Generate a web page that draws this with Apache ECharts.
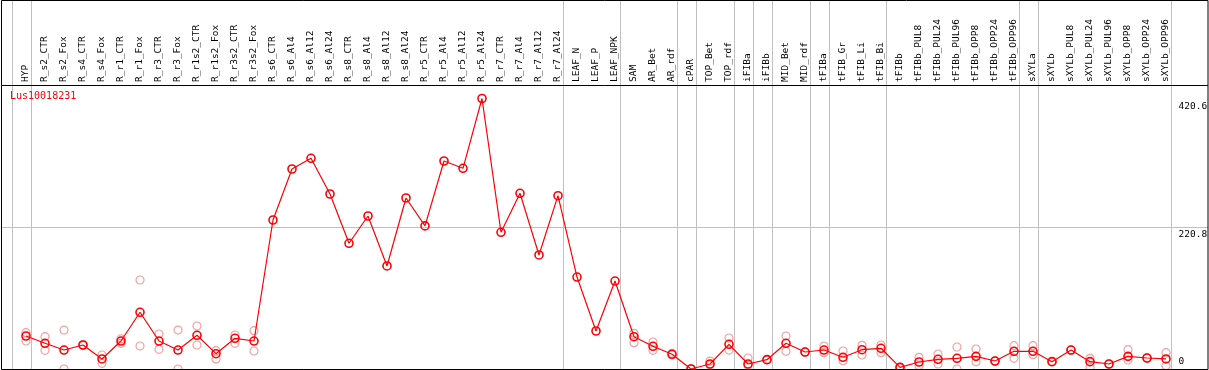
<!DOCTYPE html>
<html>
<head>
<meta charset="utf-8">
<script src="https://cdn.jsdelivr.net/npm/echarts@6/dist/echarts.min.js"></script>
<style>
html,body{margin:0;padding:0;background:#ffffff;}
#chart{width:1209px;height:370px;}
</style>
</head>
<body>
<div id="chart"></div>
<script>
const geneTitle = 'Lus10018231';

const categories = [
  'HYP','R_s2_CTR','R_s2_Fox','R_s4_CTR','R_s4_Fox','R_r1_CTR','R_r1_Fox','R_r3_CTR','R_r3_Fox',
  'R_r1s2_CTR','R_r1s2_Fox','R_r3s2_CTR','R_r3s2_Fox','R_s6_CTR','R_s6_Al4','R_s6_Al12','R_s6_Al24',
  'R_s8_CTR','R_s8_Al4','R_s8_Al12','R_s8_Al24','R_r5_CTR','R_r5_Al4','R_r5_Al12','R_r5_Al24',
  'R_r7_CTR','R_r7_Al4','R_r7_Al12','R_r7_Al24','LEAF_N','LEAF_P','LEAF_NPK','SAM','AR_Bet','AR_rdf',
  'cPAR','TOP_Bet','TOP_rdf','iFIBa','iFIBb','MID_Bet','MID_rdf','tFIBa','tFIB_Gr','tFIB_Li','tFIB_Bi',
  'tFIBb','tFIBb_PUL8','tFIBb_PUL24','tFIBb_PUL96','tFIBb_OPP8','tFIBb_OPP24','tFIBb_OPP96',
  'sXYLa','sXYLb','sXYLb_PUL8','sXYLb_PUL24','sXYLb_PUL96','sXYLb_OPP8','sXYLb_OPP24','sXYLb_OPP96'
];

// mean expression per sample (red line)
const meanValues = [
  51.3, 40.0, 29.5, 37.3, 15.6, 43.5, 88.2, 43.5, 29.5,
  52.4, 23.8, 47.7, 43.5, 231.7, 311.0, 327.6, 272.1,
  195.5, 237.9, 160.2, 265.9, 222.5, 323.4, 312.1, 420.6,
  212.6, 273.2, 177.3, 269.5, 143.0, 59.1, 136.8, 50.2, 35.3, 22.9,
  0.0, 7.8, 38.4, 7.8, 14.5, 40.0, 26.4, 29.5, 18.2, 30.0, 32.2,
  2.6, 10.9, 15.1, 16.6, 19.7, 12.4, 27.5,
  27.5, 11.4, 29.5, 11.4, 7.8, 19.7, 17.1, 15.6
];

// individual replicates (pink circles)
const rep1 = [
  56.5, 50.2, 60.6, 38.0, 21.8, 47.0, 138.4, 54.4, 60.6,
  66.9, 28.5, 52.9, 59.6, null, null, null, null,
  null, null, null, null, null, null, null, null,
  null, null, null, null, null, null, null, 55.5, 42.0, 24.4,
  0.5, 12.4, 48.2, 17.1, 14.5, 51.3, 26.4, 35.8, 28.0, 36.8, 37.3,
  2.6, 18.2, 23.3, 34.2, 31.1, 12.4, 36.3,
  36.3, 11.4, 29.5, 16.6, 7.8, 30.0, 17.1, 25.4
];
const rep2 = [
  43.5, 29.1, 0.0, 36.6, 8.8, 40.0, 35.8, 30.6, 0.0,
  37.3, 15.6, 40.0, 28.0, null, null, null, null,
  null, null, null, null, null, null, null, null,
  null, null, null, null, null, null, null, 40.9, 29.1, 21.8,
  0.0, 6.2, 29.5, 5.7, 14.5, 27.5, 26.4, 25.4, 12.9, 21.8, 25.4,
  2.6, 5.2, 7.8, 0.0, 11.4, 12.4, 16.6,
  22.3, 11.4, 29.5, 2.6, 7.8, 14.0, 17.1, 5.2
];

// separator lines drawn just after these category indices (-1 = before first)
const groupEnds = [-1, 0, 28, 31, 34, 35, 37, 38, 39, 41, 42, 45, 52, 53, 60];

const yTickValues = [0, 220.8, 420.6];
const yAxisMax = 441.6;
const midLineValue = 220.8;

const monoFont = 'DejaVu Sans Mono';

const repData = [];
categories.forEach(function (c, i) {
  if (rep1[i] != null) repData.push([i, rep1[i]]);
  if (rep2[i] != null) repData.push([i, rep2[i]]);
});

const chart = echarts.init(document.getElementById('chart'), null, {renderer: 'canvas'});

chart.setOption({
  animation: false,
  backgroundColor: '#ffffff',
  title: {
    text: geneTitle,
    left: 10,
    top: 91,
    padding: 0,
    textStyle: {color: '#ff0000', fontSize: 10, fontWeight: 'normal', fontFamily: monoFont}
  },
  grid: [{
    left: 16.5, top: 85, width: 1159, height: 284,
    containLabel: false, outerBoundsMode: 'none'
  }],
  xAxis: [{
    type: 'category',
    data: categories,
    position: 'top',
    boundaryGap: true,
    axisLine: {show: false},
    axisTick: {show: false},
    splitLine: {show: false},
    axisLabel: {
      interval: 0, rotate: 90, margin: 3,
      fontSize: 9.5, fontFamily: monoFont, color: '#000000'
    }
  }],
  yAxis: [{
    type: 'value',
    min: 0,
    max: yAxisMax,
    position: 'right',
    axisLine: {show: false},
    axisTick: {show: false},
    splitLine: {show: false},
    axisLabel: {
      customValues: yTickValues,
      margin: 3,
      fontSize: 9.5, fontFamily: monoFont, color: '#000000',
      formatter: function (v) {
        return v === 0 ? '{b|' + v + '}' : '{a|' + v + '}';
      },
      rich: {
        a: {fontSize: 9.5, fontFamily: monoFont, color: '#000000', padding: [16, 0, 0, 0]},
        b: {fontSize: 9.5, fontFamily: monoFont, color: '#000000', padding: [0, 0, 14, 0]}
      }
    }
  }],
  graphic: [
    {type: 'rect', silent: true, z: 100,
      shape: {x: 1.5, y: 0.5, width: 1206.5, height: 369},
      style: {fill: null, stroke: '#000000', lineWidth: 1}},
    {type: 'line', silent: true, z: 100,
      shape: {x1: 1.5, y1: 85.5, x2: 1208, y2: 85.5},
      style: {stroke: '#000000', lineWidth: 1}}
  ],
  series: [
    {
      type: 'custom',
      silent: true,
      clip: false,
      z: 1,
      data: groupEnds.map(function () { return [0, 0]; }),
      renderItem: function (params, api) {
        const g = groupEnds[params.dataIndex];
        const x0 = api.coord([0, 0])[0];
        const band = api.size([1, 0])[0];
        const x = Math.round(x0 + (g + 0.237) * band) + 0.5;
        return {type: 'line', shape: {x1: x, y1: 0, x2: x, y2: 369},
          style: {stroke: '#c0c0c0', lineWidth: 1}};
      }
    },
    {
      type: 'custom',
      silent: true,
      clip: false,
      z: 1,
      data: [[0, midLineValue]],
      renderItem: function (params, api) {
        const y = Math.round(api.coord([0, api.value(1)])[1]) + 0.5;
        return {type: 'line', shape: {x1: 1.5, y1: y, x2: 1208, y2: y},
          style: {stroke: '#c0c0c0', lineWidth: 1}};
      }
    },
    {
      type: 'scatter',
      z: 3,
      symbol: 'circle',
      symbolSize: 8,
      data: repData,
      itemStyle: {color: 'rgba(0,0,0,0)', borderColor: '#f2a0a0', borderWidth: 1.2, opacity: 1}
    },
    {
      type: 'line',
      z: 4,
      data: meanValues,
      symbol: 'circle',
      symbolSize: 8,
      showAllSymbol: true,
      lineStyle: {color: '#ff0000', width: 1.2},
      itemStyle: {color: 'rgba(0,0,0,0)', borderColor: '#ff0000', borderWidth: 1.6}
    }
  ]
});
</script>
</body>
</html>
